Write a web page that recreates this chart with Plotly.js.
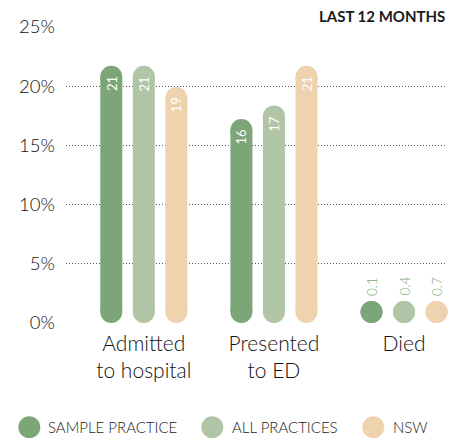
<!DOCTYPE html>
<html><head><meta charset="utf-8">
<script src="https://cdn.plot.ly/plotly-3.0.1.min.js"></script>
<style>html,body{margin:0;padding:0;background:#fff}</style>
</head><body><div id="chart" style="width:460px;height:438px"></div>
<script>
// ---- data ----
const categories = ['Admitted<br>to hospital', 'Presented<br>to ED', 'Died'];
const seriesNames = ['SAMPLE PRACTICE', 'ALL PRACTICES', 'NSW'];
const samplePractice = [20.8, 16.3, 0.1];
const allPractices = [20.8, 17.45, 0.4];
const nsw = [19.0, 20.8, 0.7];
const yTickVals = [0, 5, 10, 15, 20, 25];
const yTickText = ['0%', '5%', '10%', '15%', '20%', '25%'];
const periodLabel = 'LAST 12 MONTHS';

// ---- style ----
const colors = ['#7ca678', '#afc5a6', '#eed3ae'];
const W = 460, H = 438, M = {l: 66, r: 13, t: 27, b: 115};
const yMax = 25;
const plotW = W - M.l - M.r, plotH = H - M.t - M.b;
const pxPerUnit = plotH / yMax;
const barPx = 22;
const capR = (barPx / 2) / pxPerUnit;
const offsets = [-0.25, 0, 0.25];
const series = [samplePractice, allPractices, nsw];

const traces = series.map((vals, s) => {
  const x = [], y = [];
  vals.forEach((v, i) => {
    const top = Math.max(v, capR);
    x.push(i + offsets[s], i + offsets[s], null);
    y.push(capR, top, null);
  });
  return {
    type: 'scatter', mode: 'lines+markers', x: x, y: y, name: seriesNames[s],
    line: {color: colors[s], width: barPx},
    marker: {color: colors[s], size: barPx, line: {width: 0}},
    connectgaps: false, hoverinfo: 'skip', showlegend: false, cliponaxis: false
  };
});

const annotations = [];
series.forEach((vals, s) => vals.forEach((v, i) => {
  const top = Math.max(v, capR);
  const label = v >= 1 ? String(Math.round(v)) : v.toFixed(1);
  const inside = (v + capR) * pxPerUnit > 40;
  if (inside) {
    annotations.push({x: i + offsets[s], y: top, xref: 'x', yref: 'y', text: label,
      textangle: -90, yanchor: 'top', xanchor: 'center', yshift: 2.5, showarrow: false,
      font: {color: '#ffffff', size: 13, weight: 400}});
  } else {
    annotations.push({x: i + offsets[s], y: top, xref: 'x', yref: 'y', text: label,
      textangle: -90, yanchor: 'bottom', xanchor: 'center', yshift: barPx / 2 + 3, showarrow: false,
      font: {color: colors[0], size: 13.5, weight: 300}});
  }
}));

annotations.push({xref: 'paper', yref: 'paper', x: 1, y: (H - M.b - 15.5) / plotH,
  xanchor: 'right', yanchor: 'middle', text: '<b>' + periodLabel + '</b>', showarrow: false,
  font: {size: 15, color: '#1a1a1a'}});

// custom legend
const legendCircleX = [29.3, 212.3, 373.3];
const legendTextX = [46, 230, 391];
const legendY = 427.3;
const shapes = [];
seriesNames.forEach((n, s) => {
  shapes.push({type: 'circle', xref: 'paper', yref: 'paper', xsizemode: 'pixel', ysizemode: 'pixel',
    xanchor: (legendCircleX[s] - M.l) / plotW, yanchor: (H - M.b - legendY) / plotH,
    x0: -11, x1: 11, y0: -11, y1: 11, fillcolor: colors[s], line: {width: 0}});
  annotations.push({xref: 'paper', yref: 'paper', x: (legendTextX[s] - M.l) / plotW,
    y: (H - M.b - legendY) / plotH, xanchor: 'left', yanchor: 'middle', text: n, showarrow: false,
    font: {size: 15, color: '#222', weight: 300}});
});

const layout = {
  width: W, height: H, margin: M, paper_bgcolor: '#fff', plot_bgcolor: '#fff',
  font: {family: 'Lato, sans-serif', color: '#111'},
  showlegend: false,
  xaxis: {range: [-0.598, 2.33], tickvals: [0, 1, 2], ticktext: categories, showgrid: false,
    zeroline: false, showline: false, ticks: '', tickfont: {size: 21, color: '#111', weight: 300},
    ticklabelstandoff: 6, fixedrange: true},
  yaxis: {range: [0, yMax], tickvals: yTickVals, ticktext: yTickText, showgrid: true,
    gridcolor: '#555', griddash: '1px,2px', gridwidth: 1, zeroline: false, showline: false,
    ticks: '', tickfont: {size: 18.5, color: '#111', weight: 300}, ticklabelstandoff: 10, fixedrange: true},
  shapes: shapes, annotations: annotations
};

Plotly.newPlot('chart', traces, layout, {displayModeBar: false, staticPlot: true});
</script>
</body></html>
